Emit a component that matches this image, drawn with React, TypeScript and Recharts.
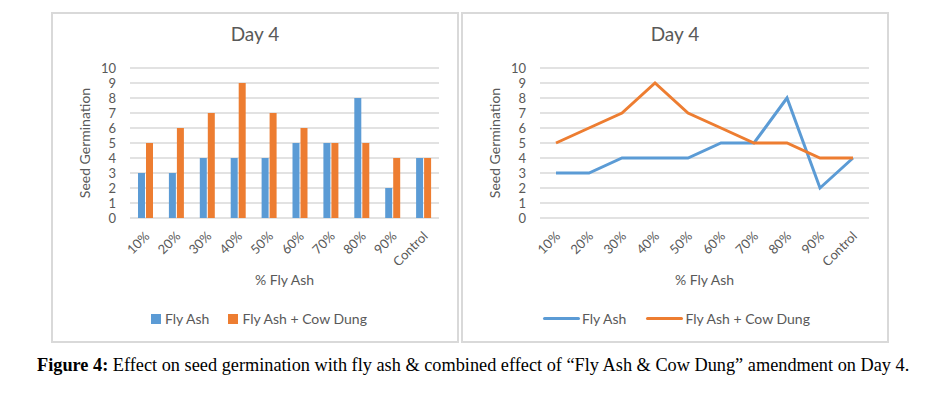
import React from "react";
import {
  Bar,
  BarChart,
  CartesianGrid,
  Legend,
  Line,
  LineChart,
  XAxis,
  YAxis
} from "recharts";

const categories = ["10%", "20%", "30%", "40%", "50%", "60%", "70%", "80%", "90%", "Control"];
const flyAsh = [3, 3, 4, 4, 4, 5, 5, 8, 2, 4];
const flyAshCowDung = [5, 6, 7, 9, 7, 6, 5, 5, 4, 4];
const yTicks = [0, 1, 2, 3, 4, 5, 6, 7, 8, 9, 10];

const BLUE = "#5b9bd5";
const ORANGE = "#ed7d31";
const TEXT = "#595959";
const GRID = "#d9d9d9";
const FONT = "Lato, 'Open Sans', sans-serif";

const data = categories.map((c, i) => ({ cat: c, flyAsh: flyAsh[i], combo: flyAshCowDung[i] }));

// x axis (70px) sits inside the bottom offset on top of this margin
const margin = { top: 54, right: 18, left: 17, bottom: 53 };

function XTick({ x, y, payload }: any) {
  const tx = x + 5;
  const ty = y + 17;
  return (
    <text x={tx} y={ty} transform={`rotate(-45, ${tx}, ${ty})`} textAnchor="end" fill={TEXT} fontSize={13} fontFamily={FONT}>
      {payload.value}
    </text>
  );
}

function LegendContent({ kind, left }: { kind: "bar" | "line"; left: number }) {
  const items = [
    { name: "Fly Ash", color: BLUE },
    { name: "Fly Ash + Cow Dung", color: ORANGE }
  ];
  return (
    <div style={{ display: "flex", alignItems: "center", paddingLeft: left, fontFamily: FONT, fontSize: 14, color: TEXT }}>
      {items.map((it, i) => (
        <div key={it.name} style={{ display: "flex", alignItems: "center", marginRight: i === 0 ? (kind === "bar" ? 19 : 20) : 0 }}>
          {kind === "bar" ? (
            <span style={{ width: 10, height: 10, background: it.color, marginRight: 4, display: "inline-block" }} />
          ) : (
            <span style={{ width: 37, height: 3, background: it.color, marginRight: 2, display: "inline-block", borderRadius: 2 }} />
          )}
          <span>{it.name}</span>
        </div>
      ))}
    </div>
  );
}

const yAxisProps = {
  ticks: yTicks,
  domain: [0, 10] as [number, number],
  interval: 0 as const,
  width: 60,
  axisLine: false,
  tickLine: false,
  tickSize: 0,
  tickMargin: 14,
  tick: { fill: TEXT, fontSize: 13, fontFamily: FONT },
  label: {
    value: "Seed Germination",
    angle: -90,
    position: "insideLeft" as const,
    offset: 15,
    style: { textAnchor: "middle", fill: TEXT, fontSize: 14, fontFamily: FONT }
  }
};

const xLabel = {
  value: "% Fly Ash",
  position: "insideBottom" as const,
  offset: 3,
  style: { fill: TEXT, fontSize: 14, fontFamily: FONT }
};

function Title() {
  return (
    <div style={{ position: "absolute", top: 9, left: 0, right: 0, textAlign: "center", fontFamily: FONT, fontSize: 19, lineHeight: 1.2, color: TEXT }}>
      Day 4
    </div>
  );
}

export default function App() {
  return (
    <div style={{ position: "absolute", left: 0, top: 0, width: 936, height: 395, background: "#fff" }}>
      <div style={{ position: "absolute", left: 51, top: 12, width: 408, height: 331, border: `2px solid ${GRID}`, boxSizing: "border-box" }}>
        <Title />
        <BarChart width={404} height={327} data={data} margin={margin} barSize={7} barGap={1}>
          <CartesianGrid vertical={false} stroke={GRID} strokeWidth={1.5} />
          <XAxis dataKey="cat" interval={0} axisLine={false} tickLine={false} tickSize={0} height={70} tick={<XTick />} label={xLabel} />
          <YAxis {...yAxisProps} />
          <Legend layout="horizontal" verticalAlign="middle" wrapperStyle={{ top: 296, left: 0, width: 404 }} content={() => <LegendContent kind="bar" left={98} />} />
          <Bar dataKey="flyAsh" name="Fly Ash" fill={BLUE} isAnimationActive={false} />
          <Bar dataKey="combo" name="Fly Ash + Cow Dung" fill={ORANGE} isAnimationActive={false} />
        </BarChart>
      </div>
      <div style={{ position: "absolute", left: 461, top: 12, width: 428, height: 331, border: `2px solid ${GRID}`, boxSizing: "border-box" }}>
        <Title />
        <LineChart width={424} height={327} data={data} margin={margin}>
          <CartesianGrid vertical={false} stroke={GRID} strokeWidth={1.5} />
          <XAxis dataKey="cat" interval={0} axisLine={false} tickLine={false} tickSize={0} height={70} padding={{ left: 16, right: 16 }} tick={<XTick />} label={xLabel} />
          <YAxis {...yAxisProps} />
          <Legend layout="horizontal" verticalAlign="middle" wrapperStyle={{ top: 296, left: 0, width: 424 }} content={() => <LegendContent kind="line" left={80} />} />
          <Line type="linear" dataKey="flyAsh" name="Fly Ash" stroke={BLUE} strokeWidth={3} dot={false} isAnimationActive={false} />
          <Line type="linear" dataKey="combo" name="Fly Ash + Cow Dung" stroke={ORANGE} strokeWidth={3} dot={false} isAnimationActive={false} />
        </LineChart>
      </div>
      <div style={{ position: "absolute", left: 37, top: 355, whiteSpace: "nowrap", fontFamily: "'Liberation Serif', 'Times New Roman', serif", fontSize: 18.3, color: "#000" }}>
        <b>Figure 4:</b> Effect on seed germination with fly ash &amp; combined effect of “Fly Ash &amp; Cow Dung” amendment on Day 4.
      </div>
    </div>
  );
}
